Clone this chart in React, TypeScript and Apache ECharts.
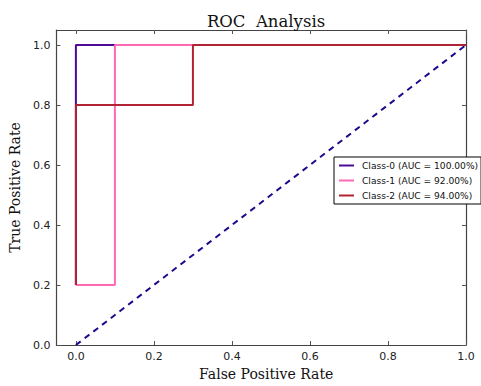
import React, { useEffect, useRef } from "react";
import * as echarts from "echarts";

const seriesNames = ["Class-0 (AUC = 100.00%)", "Class-1 (AUC = 92.00%)", "Class-2 (AUC = 94.00%)"];
const fpr0 = [0, 0, 1];
const tpr0 = [0.2, 1, 1];
const fpr1 = [0, 0.1, 0.1, 1];
const tpr1 = [0.2, 0.2, 1, 1];
const fpr2 = [0, 0, 0.3, 0.3, 1];
const tpr2 = [0.2, 0.8, 0.8, 1, 1];
const diagX = [0, 1];
const diagY = [0, 1];
const tickValues = [0, 0.2, 0.4, 0.6, 0.8, 1.0];
const colors = ["#4b0b96", "#ff69b4", "#b22234"];

const zip = (xs: number[], ys: number[]) => xs.map((x, i) => [x, ys[i]]);

export default function App() {
  const ref = useRef<HTMLDivElement>(null);
  useEffect(() => {
    if (!ref.current) return;
    const chart = echarts.init(ref.current, undefined, { renderer: "svg" });
    const tickStyle = { inside: true, length: 4, lineStyle: { color: "#555", width: 1 } };
    const axisLine = { show: true, onZero: false, lineStyle: { color: "#444", width: 1.2 } };
    const labelStyle = { fontFamily: "DejaVu Sans", fontSize: 11, color: "#222" };
    chart.setOption({
      animation: false,
      title: {
        text: "ROC  Analysis",
        left: 261,
        textAlign: "center",
        top: 8,
        textStyle: { fontFamily: "DejaVu Serif", fontSize: 16.5, fontWeight: "normal", color: "#111" },
      },
      grid: { left: 51, right: 15, top: 30, bottom: 36, show: false },
      legend: {
        orient: "vertical",
        left: 334,
        top: 157,
        data: seriesNames,
        icon: "rect",
        itemWidth: 15,
        itemHeight: 2,
        itemGap: 4,
        padding: [3, 3, 3, 5],
        backgroundColor: "#fff",
        borderColor: "#000",
        borderWidth: 1,
        borderRadius: 0,
        textStyle: { fontFamily: "DejaVu Sans", fontSize: 9.1, color: "#111", lineHeight: 11, padding: [0, 0, 0, 3] },
      },
      xAxis: [
        {
          type: "value",
          min: -0.05,
          max: 1.0,
          name: "False Positive Rate",
          nameLocation: "middle",
          nameGap: 22,
          nameTextStyle: { fontFamily: "DejaVu Serif", fontSize: 14, color: "#111", padding: [0, 0, 0, 10] },
          axisLine,
          axisTick: { ...tickStyle, customValues: tickValues },
          axisLabel: { ...labelStyle, customValues: tickValues, margin: 6, formatter: (v: number) => v.toFixed(1) },
          splitLine: { show: false },
        },
        {
          type: "value",
          position: "top",
          min: -0.05,
          max: 1.0,
          axisLine,
          axisTick: { ...tickStyle, customValues: tickValues },
          axisLabel: { show: false },
          splitLine: { show: false },
        },
      ],
      yAxis: [
        {
          type: "value",
          min: 0,
          max: 1.05,
          name: "True Positive Rate",
          nameLocation: "middle",
          nameGap: 31,
          nameTextStyle: { fontFamily: "DejaVu Serif", fontSize: 14, color: "#111" },
          axisLine,
          axisTick: { ...tickStyle, customValues: tickValues },
          axisLabel: { ...labelStyle, customValues: tickValues, margin: 6, formatter: (v: number) => v.toFixed(1) },
          splitLine: { show: false },
        },
        {
          type: "value",
          position: "right",
          min: 0,
          max: 1.05,
          axisLine,
          axisTick: { ...tickStyle, customValues: tickValues },
          axisLabel: { show: false },
          splitLine: { show: false },
        },
      ],
      series: [
        {
          type: "line",
          name: "diag",
          data: zip(diagX, diagY),
          showSymbol: false,
          symbol: "none",
          lineStyle: { color: "#1a0a8c", width: 2, type: [6, 5] },
          z: 1,
        },
        {
          type: "line",
          name: seriesNames[0],
          data: zip(fpr0, tpr0),
          symbol: "none",
          color: colors[0],
          lineStyle: { color: colors[0], width: 2 },
          z: 2,
        },
        {
          type: "line",
          name: seriesNames[1],
          data: zip(fpr1, tpr1),
          symbol: "none",
          color: colors[1],
          lineStyle: { color: colors[1], width: 2 },
          z: 3,
        },
        {
          type: "line",
          name: seriesNames[2],
          data: zip(fpr2, tpr2),
          symbol: "none",
          color: colors[2],
          lineStyle: { color: colors[2], width: 2 },
          z: 4,
        },
      ],
    });
    return () => chart.dispose();
  }, []);
  return <div ref={ref} style={{ width: 481, height: 386, position: "absolute", left: 0, top: 0 }} />;
}
